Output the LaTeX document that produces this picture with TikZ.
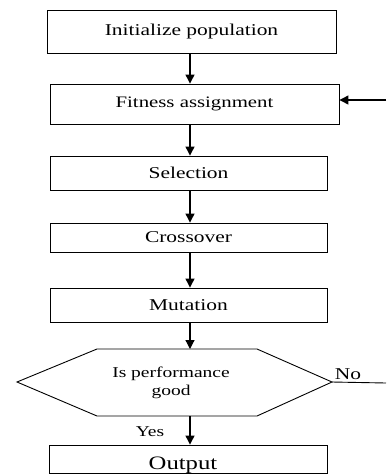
\documentclass[tikz,border=0pt]{standalone}
\usepackage{fontspec}
\setmainfont{Liberation Serif}
\usetikzlibrary{arrows.meta}
\newcommand{\sx}[1]{\scalebox{1.3}[1]{#1}}
\begin{document}
\begin{tikzpicture}[x=1pt,y=-1pt,
  box/.style={draw, line width=0.9pt, inner sep=0pt, font=\fontsize{16.5}{19}\selectfont},
  arr/.style={line width=1.2pt, -{Triangle[width=9pt,length=9pt]}},
  lbl/.style={inner sep=0pt, font=\fontsize{15}{17}\selectfont}]
\useasboundingbox (0,0) rectangle (387,475);
\coordinate (cx) at (190,0);
\node[box, minimum width=289pt, minimum height=43pt] (init) at (191.5,31.5) {\sx{Initialize population}};
\node[box, minimum width=289pt, minimum height=40pt, font=\fontsize{16}{19}\selectfont] (fit) at (194.5,104) {\raisebox{4pt}{\sx{Fitness assignment}}};
\node[box, minimum width=277pt, minimum height=34pt] (sel) at (188.5,173) {\sx{Selection}};
\node[box, minimum width=277pt, minimum height=29pt] (cross) at (188.5,237.5) {\sx{Crossover}};
\node[box, minimum width=277pt, minimum height=34pt] (mut) at (188.5,305) {\sx{Mutation}};
% decision hexagon
\coordinate (hL) at (17,382);
\coordinate (hTL) at (97,349);
\coordinate (hTR) at (257,349);
\coordinate (hR) at (332,382);
\coordinate (hBR) at (257,416);
\coordinate (hBL) at (97,416);
\draw[line width=0.9pt] (hL) -- (hTL) -- (hTR) -- (hR) -- (hBR) -- (hBL) -- cycle;
\node[lbl, align=center] (dec) at (171,383) {\sx{Is performance}\\[1pt]\sx{good}};
\node[box, minimum width=278pt, minimum height=28pt] (out) at (188,459) {};
\node[inner sep=0pt, anchor=base, font=\fontsize{19}{21}\selectfont] (outt) at (183,469) {\sx{Output}};
% arrows
\draw[arr] (init.south -| cx) -- (fit.north -| cx);
\draw[arr] (fit.south -| cx) -- (sel.north -| cx);
\draw[arr] (sel.south -| cx) -- (cross.north -| cx);
\draw[arr] (cross.south -| cx) -- (mut.north -| cx);
\draw[arr] (mut.south -| cx) -- (hTL -| cx);
\draw[arr] (hBL -| cx) -- (out.north -| cx);
% feedback
\coordinate (fbR) at (386,100);
\draw[arr] (fbR) -- (fit.east |- fbR);
\coordinate (noR) at (386,383);
\draw[line width=0.9pt] (hR) -- (noR);
\node[lbl] (yes) at (150,432) {\sx{Yes}};
\node[lbl, font=\fontsize{16.5}{19}\selectfont] (no) at (348,374) {\sx{No}};
\end{tikzpicture}
\end{document}
